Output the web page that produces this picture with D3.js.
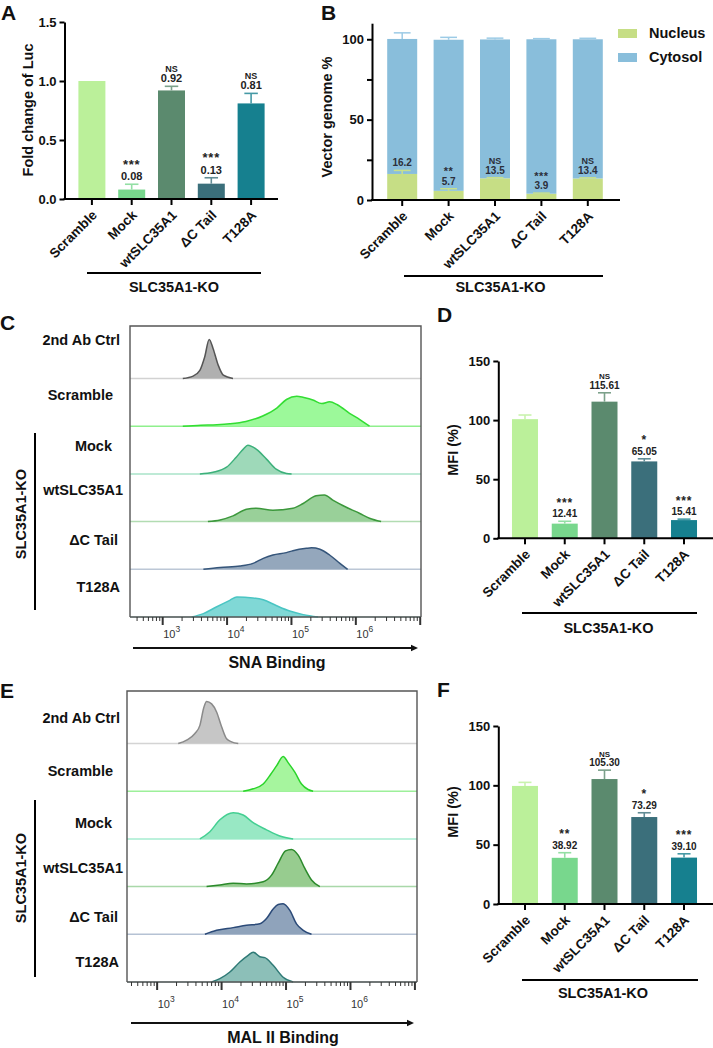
<!DOCTYPE html>
<html><head><meta charset="utf-8">
<script src="https://cdn.jsdelivr.net/npm/d3@7"></script>
<style>
body{margin:0;background:#fff;}
svg{display:block;font-family:Arial,"Liberation Sans",Helvetica,sans-serif;}
</style></head><body>
<svg id="fig" width="713" height="1048"></svg>
<script>
// ---------------- DATA ----------------
const categories = ["Scramble","Mock","wtSLC35A1","ΔC Tail","T128A"];
const barColors = ["#bbf09a","#78d78d","#5b8a6e","#3b6f7b","#16808f"];

// Panel A: Fold change of Luc
const lucValues = [1.00,0.08,0.92,0.13,0.81];
const lucErrors = [0,0.045,0.035,0.05,0.085];
const lucSig = ["","***","NS","***","NS"];
const lucTicks = [0,0.5,1.0,1.5];
const lucTickLabels = ["0.0","0.5","1.0","1.5"];

// Panel B: Vector genome %
const nucleusValues = [16.2,5.7,13.5,3.9,13.4];
const nucleusErrors = [2.2,1.3,0.4,0.4,0.4];
const cytosolValues = [84.0,94.0,86.4,96.1,86.6];
const cytosolErrors = [3.8,1.5,0.8,0.4,0.6];
const nucleusSig = ["","**","NS","***","NS"];
const genomeTicks = [0,25,50,75,100];
const genomeTickLabels = ["0","","50","","100"];
const stackSeries = ["Nucleus","Cytosol"];
const stackColors = ["#c6de85","#89bedb"];

// Panel D: SNA MFI
const snaValues = [100.8,12.41,115.61,65.05,15.41];
const snaErrors = [3.5,2.0,7.5,2.2,0.8];
const snaSig = ["","***","NS","*","***"];
// Panel F: MAL II MFI
const malValues = [99.5,38.92,105.30,73.29,39.10];
const malErrors = [3.0,4.3,7.5,3.6,3.2];
const malSig = ["","**","NS","*","***"];
const mfiTicks = [0,50,100,150];
const mfiTickLabels = ["0","50","100","150"];

// Flow histograms: [log10 intensity, fraction of row height]
const flowRows = ["2nd Ab Ctrl","Scramble","Mock","wtSLC35A1","ΔC Tail","T128A"];
const flowDecadeLabels = [3,4,5,6];
const snaHist2ndAb = [[3.32,0],[3.48,0.05],[3.585,0.17],[3.66,0.45],[3.73,0.82],[3.79,0.63],[3.87,0.28],[3.95,0.07],[4.10,0]];
const snaHistScramble = [[3.32,0],[3.6,0.02],[3.85,0.03],[4.05,0.05],[4.3,0.10],[4.57,0.22],[4.78,0.38],[4.93,0.56],[5.09,0.63],[5.2,0.60],[5.34,0.55],[5.48,0.475],[5.60,0.51],[5.72,0.45],[5.91,0.27],[6.07,0.14],[6.22,0]];
const snaHistMock = [[3.585,0],[3.79,0.035],[4.0,0.14],[4.15,0.35],[4.26,0.52],[4.33,0.60],[4.46,0.52],[4.62,0.31],[4.77,0.10],[4.93,0.01],[5.01,0]];
const snaHistWt = [[3.71,0],[3.90,0.035],[4.10,0.12],[4.31,0.26],[4.46,0.28],[4.72,0.24],[5.03,0.28],[5.19,0.38],[5.39,0.54],[5.52,0.56],[5.65,0.45],[5.86,0.30],[6.07,0.17],[6.22,0.07],[6.40,0]];
const snaHistDC = [[3.64,0],[3.90,0.04],[4.21,0.07],[4.41,0.125],[4.57,0.23],[4.72,0.30],[4.93,0.35],[5.03,0.39],[5.24,0.44],[5.32,0.45],[5.45,0.42],[5.60,0.30],[5.76,0.125],[5.88,0]];
const snaHistT128A = [[3.46,0],[3.64,0.07],[3.84,0.21],[4.05,0.35],[4.16,0.42],[4.41,0.40],[4.57,0.36],[4.77,0.24],[4.98,0.125],[5.19,0.05],[5.42,0]];

const malHist2ndAb = [[3.335,0],[3.465,0.07],[3.594,0.21],[3.671,0.38],[3.733,0.76],[3.775,0.88],[3.853,0.83],[3.930,0.66],[4.008,0.35],[4.085,0.10],[4.163,0.035],[4.266,0]];
const malHistScramble = [[4.343,0],[4.498,0.05],[4.653,0.15],[4.757,0.33],[4.860,0.53],[4.963,0.73],[5.04,0.60],[5.144,0.40],[5.248,0.15],[5.35,0.035],[5.428,0]];
const malHistMock = [[3.671,0],[3.826,0.15],[3.981,0.40],[4.188,0.55],[4.343,0.50],[4.498,0.34],[4.705,0.19],[4.912,0.06],[5.118,0]];
const malHistWt = [[3.775,0],[3.981,0.035],[4.188,0.07],[4.395,0.055],[4.653,0.10],[4.783,0.24],[4.886,0.49],[5.00,0.75],[5.093,0.78],[5.196,0.66],[5.30,0.38],[5.403,0.14],[5.532,0]];
const malHistDC = [[3.749,0],[3.930,0.083],[4.188,0.14],[4.395,0.19],[4.601,0.22],[4.705,0.33],[4.808,0.53],[4.886,0.625],[4.963,0.64],[5.067,0.5],[5.170,0.22],[5.274,0.083],[5.403,0]];
const malHistT128A = [[3.853,0],[3.981,0.07],[4.136,0.21],[4.291,0.42],[4.42,0.56],[4.498,0.625],[4.601,0.53],[4.679,0.51],[4.808,0.35],[4.963,0.10],[5.118,0]];

// ---------------- DRAW ----------------
const svg = d3.select("#fig");
const FONT = "Arial, 'Liberation Sans', Helvetica, sans-serif";

function txt(t, x, y, size, opts = {}) {
  const e = svg.append("text").attr("x", x).attr("y", y).attr("font-size", size)
    .attr("font-weight", opts.weight || "bold").attr("fill", opts.fill || "#111")
    .attr("text-anchor", opts.anchor || "start").text(t);
  if (opts.rotate) e.attr("transform", `rotate(${opts.rotate},${x},${y})`);
  if (opts.ls) e.attr("letter-spacing", opts.ls);
  return e;
}
function lighten(c, k) { return d3.interpolateRgb(c, "#ffffff")(k); }

function barPanel(cfg) {
  const g = svg.append("g");
  const y = d3.scaleLinear().domain(cfg.yDomain).range(cfg.yRange);
  const x = d3.scaleBand().domain(categories).range(cfg.xRange).padding(0);
  const y0 = y(0);

  // y axis
  g.append("g").attr("transform", `translate(${cfg.axisX},0)`)
    .call(d3.axisLeft(y).tickValues(cfg.ticks).tickSize(5).tickSizeOuter(0)
      .tickFormat((d, i) => cfg.tickLabels[i]))
    .call(a => {
      a.select(".domain").attr("stroke", "#000").attr("stroke-width", 2);
      a.selectAll(".tick line").attr("stroke", "#000").attr("stroke-width", 2);
      a.selectAll(".tick text").attr("font-size", 13).attr("font-weight", "bold")
        .attr("font-family", FONT).attr("fill", "#111").attr("x", -8);
    });

  // bars
  const bw = cfg.barW;
  if (cfg.stacked) {
    const rows = categories.map((c, i) => ({ cat: c, Nucleus: nucleusValues[i], Cytosol: cytosolValues[i] }));
    const stack = d3.stack().keys(stackSeries)(rows);
    stack.forEach((s, si) => {
      g.selectAll(null).data(s).enter().append("rect")
        .attr("x", d => x(d.data.cat) + x.bandwidth() / 2 - bw / 2)
        .attr("width", bw)
        .attr("y", d => y(d[1])).attr("height", d => y(d[0]) - y(d[1]))
        .attr("fill", stackColors[si]);
    });
    const errSets = [
      { tops: stack[0].map(d => d[1]), errs: nucleusErrors, color: "#c9e08a" },
      { tops: stack[1].map(d => d[1]), errs: cytosolErrors, color: "#9ccbe6" }
    ];
    errSets.forEach(es => {
      categories.forEach((c, i) => {
        const cx = x(c) + x.bandwidth() / 2;
        const t = y(es.tops[i] + es.errs[i]);
        g.append("line").attr("x1", cx).attr("x2", cx).attr("y1", y(es.tops[i])).attr("y2", t)
          .attr("stroke", es.color).attr("stroke-width", 1.5);
        g.append("line").attr("x1", cx - bw * 0.28).attr("x2", cx + bw * 0.28).attr("y1", t).attr("y2", t)
          .attr("stroke", es.color).attr("stroke-width", 1.5);
      });
    });
    categories.forEach((c, i) => {
      const cx = x(c) + x.bandwidth() / 2;
      const vb = y(nucleusValues[i] + nucleusErrors[i]) - 4;
      txt(d3.format(".1f")(nucleusValues[i]), cx, vb, 10, { anchor: "middle", fill: "#2b2f3a" });
      const s = nucleusSig[i];
      if (s === "NS") txt(s, cx, vb - 10, 9, { anchor: "middle", fill: "#2b2f3a" });
      else if (s) txt(s, cx, vb - 9.5, 11, { anchor: "middle", fill: "#2b2f3a", ls: 0.5 });
    });
  } else {
    categories.forEach((c, i) => {
      const cx = x(c) + x.bandwidth() / 2;
      const v = cfg.values[i], e = cfg.errors[i];
      g.append("rect").attr("x", cx - bw / 2).attr("width", bw)
        .attr("y", y(v)).attr("height", y0 - y(v)).attr("fill", barColors[i]);
      const t = y(v + e);
      if (e > 0) {
        const ec = lighten(barColors[i], 0.2);
        g.append("line").attr("x1", cx).attr("x2", cx).attr("y1", y(v)).attr("y2", t)
          .attr("stroke", ec).attr("stroke-width", 1.6);
        g.append("line").attr("x1", cx - bw * 0.25).attr("x2", cx + bw * 0.25).attr("y1", t).attr("y2", t)
          .attr("stroke", ec).attr("stroke-width", 1.6);
      }
      const s = cfg.sig[i];
      if (s) {
        const vb = t - 4;
        txt(d3.format(cfg.fmt)(v), cx, vb, cfg.valSize, { anchor: "middle", fill: "#222" });
        if (s === "NS") txt(s, cx, vb - cfg.valSize + 0.5, cfg.valSize - 2, { anchor: "middle", fill: "#222" });
        else txt(s, cx, vb - cfg.valSize - 0.5, cfg.starSize, { anchor: "middle", fill: "#222", ls: 0.8 });
      }
    });
  }

  // x axis
  g.append("line").attr("x1", cfg.axisX - 1).attr("x2", cfg.xEnd).attr("y1", y0).attr("y2", y0)
    .attr("stroke", "#000").attr("stroke-width", 2);
  g.append("g").attr("transform", `translate(0,${y0})`)
    .call(d3.axisBottom(x).tickSize(6).tickSizeOuter(0))
    .call(a => {
      a.select(".domain").remove();
      a.selectAll(".tick line").attr("stroke", "#000").attr("stroke-width", 2);
      a.selectAll(".tick text").attr("font-size", 13.5).attr("font-weight", "bold")
        .attr("font-family", FONT).attr("fill", "#111")
        .attr("x", 0).attr("y", 0).attr("dy", 0).attr("text-anchor", "end")
        .attr("transform", "translate(6,17) rotate(-45)");
    });

  // KO bracket
  g.append("line").attr("x1", cfg.ko[0]).attr("x2", cfg.ko[1]).attr("y1", cfg.ko[2]).attr("y2", cfg.ko[2])
    .attr("stroke", "#000").attr("stroke-width", 2);
  txt("SLC35A1-KO", (cfg.ko[0] + cfg.ko[1]) / 2 + cfg.koShift, cfg.ko[3], 14.5, { anchor: "middle" });

  // y title
  txt(cfg.yTitle, cfg.yTitlePos[0], cfg.yTitlePos[1], 14.5, { anchor: "middle", rotate: -90 });
  // letter
  txt(cfg.letter, cfg.letterPos[0], cfg.letterPos[1], 21);
}

// Panel A
barPanel({
  letter: "A", letterPos: [1, 20],
  yDomain: [0, 1.5], yRange: [199, 22], axisX: 64.5, xEnd: 278, xRange: [72, 271], barW: 27,
  ticks: lucTicks, tickLabels: lucTickLabels,
  values: lucValues, errors: lucErrors, sig: lucSig, fmt: ".2f", valSize: 11, starSize: 13,
  ko: [87, 261, 273, 292], koShift: 0, yTitle: "Fold change of Luc", yTitlePos: [33, 110]
});
// Panel B
barPanel({
  letter: "B", letterPos: [321, 20], stacked: true,
  yDomain: [0, 110], yRange: [200, 23.2], axisX: 372, xEnd: 620, xRange: [379, 611], barW: 30,
  ticks: genomeTicks, tickLabels: genomeTickLabels,
  ko: [404, 603, 276, 292], koShift: -3, yTitle: "Vector genome %", yTitlePos: [332, 117]
});
// legend B
stackSeries.forEach((s, i) => {
  svg.append("rect").attr("x", 618).attr("y", 29 + i * 24).attr("width", 19).attr("height", 9).attr("fill", stackColors[i]);
  txt(s, 649, 38 + i * 24, 14.5);
});
// Panel D
barPanel({
  letter: "D", letterPos: [437, 322],
  yDomain: [0, 150], yRange: [538.3, 361], axisX: 498.3, xEnd: 713, xRange: [505.1, 703.9], barW: 26,
  ticks: mfiTicks, tickLabels: mfiTickLabels,
  values: snaValues, errors: snaErrors, sig: snaSig, fmt: ".2f", valSize: 10, starSize: 12,
  ko: [522, 697, 613, 633], koShift: -1, yTitle: "MFI (%)", yTitlePos: [458, 450]
});
// Panel F
barPanel({
  letter: "F", letterPos: [437, 697],
  yDomain: [0, 150], yRange: [904, 726], axisX: 498.3, xEnd: 713, xRange: [505.1, 703.9], barW: 26,
  ticks: mfiTicks, tickLabels: mfiTickLabels,
  values: malValues, errors: malErrors, sig: malSig, fmt: ".2f", valSize: 10, starSize: 12,
  ko: [522, 698, 980, 998], koShift: -7, yTitle: "MFI (%)", yTitlePos: [458, 812]
});

// -------- Flow panels --------
function flowPanel(cfg) {
  const g = svg.append("g");
  const x = d3.scaleLog().domain([10 ** cfg.logMin, 10 ** cfg.logMax]).range([cfg.left, cfg.right]);
  const n = flowRows.length;
  const base = i => cfg.bottom - (n - 1 - i) * cfg.step;
  cfg.hists.forEach((h, i) => {
    const b = base(i);
    const yy = d3.scaleLinear().domain([0, 1]).range([b, b - cfg.step]);
    g.append("line").attr("x1", cfg.left).attr("x2", cfg.right).attr("y1", b).attr("y2", b)
      .attr("stroke", cfg.lineColors[i]).attr("stroke-width", 1.5);
    const area = d3.area().x(d => x(10 ** d[0])).y0(b).y1(d => yy(d[1])).curve(d3.curveMonotoneX);
    const line = d3.line().x(d => x(10 ** d[0])).y(d => yy(d[1])).curve(d3.curveMonotoneX);
    g.append("path").datum(h).attr("d", area).attr("fill", cfg.fills[i]);
    g.append("path").datum(h).attr("d", line).attr("fill", "none").attr("stroke", cfg.strokes[i]).attr("stroke-width", 1.5);
    txt(flowRows[i], cfg.labelX[i], cfg.labelY[i], 14.5, { anchor: "end" });
  });
  // frame
  g.append("path").attr("d", `M${cfg.left},${cfg.bottom}V${cfg.top}H${cfg.right}V${cfg.bottom}`)
    .attr("fill", "none").attr("stroke", "#555").attr("stroke-width", 1.4);
  g.append("line").attr("x1", cfg.left).attr("x2", cfg.right).attr("y1", cfg.bottom).attr("y2", cfg.bottom)
    .attr("stroke", "#555").attr("stroke-width", 1.4);
  // ticks
  const tv = [];
  for (let k = 2; k <= 7; k++) for (let m = 1; m <= 9; m++) {
    const v = m * 10 ** k;
    if (v >= 10 ** cfg.logMin && v <= 10 ** cfg.logMax) tv.push(v);
  }
  g.append("g").attr("transform", `translate(0,${cfg.bottom})`)
    .call(d3.axisBottom(x).tickValues(tv).tickSizeOuter(0).tickFormat(""))
    .call(a => {
      a.select(".domain").remove();
      a.selectAll(".tick line").each(function (d) {
        const major = Math.abs(Math.log10(d) - Math.round(Math.log10(d))) < 1e-9;
        d3.select(this).attr("y2", major ? 8 : 4).attr("stroke", "#333").attr("stroke-width", major ? 2 : 1);
      });
    });
  flowDecadeLabels.forEach(k => {
    const t = g.append("text").attr("x", x(10 ** k) + 1).attr("y", cfg.bottom + cfg.tickLabelDy)
      .attr("font-size", 11).attr("fill", "#333").text("10");
    t.append("tspan").attr("dy", -6).attr("font-size", 8.5).text(k);
  });
  // axis arrow line
  g.append("line").attr("x1", cfg.arrow[0]).attr("x2", cfg.arrow[1] - 4).attr("y1", cfg.arrow[2]).attr("y2", cfg.arrow[2])
    .attr("stroke", "#111").attr("stroke-width", 1.8);
  g.append("path").attr("d", `M${cfg.arrow[1]},${cfg.arrow[2]}l-7,-3.2v6.4z`).attr("fill", "#111");
  txt(cfg.title, cfg.titlePos[0], cfg.titlePos[1], 16, { anchor: "middle" });
  // KO bracket
  g.append("line").attr("x1", 35).attr("x2", 35).attr("y1", cfg.ko[0]).attr("y2", cfg.ko[1])
    .attr("stroke", "#000").attr("stroke-width", 2);
  txt("SLC35A1-KO", 26, cfg.ko[2], 14.5, { anchor: "middle", rotate: -90 });
  txt(cfg.letter, cfg.letterPos[0], cfg.letterPos[1], 21);
}

flowPanel({
  letter: "C", letterPos: [0, 330],
  left: 130, right: 421, top: 326, bottom: 617, step: 47.7, logMin: 2.5, logMax: 7.02,
  hists: [snaHist2ndAb, snaHistScramble, snaHistMock, snaHistWt, snaHistDC, snaHistT128A],
  fills: ["#b0b0b0", "#9cf99a", "#9ed9b9", "#99d099", "#94a7bc", "#80d8d6"],
  strokes: ["#555555", "#33dd33", "#3cb07a", "#3c983c", "#35557a", "#4ac5c3"],
  lineColors: ["#d2d2d2", "#8ff08d", "#a9e3c8", "#b2dcb2", "#bcc7d6", "#bde8e6"],
  labelX: [120, 113, 112, 123, 118, 120], labelY: [345, 400, 450.7, 495, 545, 592],
  tickLabelDy: 21, arrow: [133, 418, 648], title: "SNA Binding", titlePos: [277, 668],
  ko: [433, 610, 514]
});
flowPanel({
  letter: "E", letterPos: [0, 698],
  left: 127, right: 417, top: 691, bottom: 982, step: 47.7, logMin: 2.54, logMax: 7.04,
  hists: [malHist2ndAb, malHistScramble, malHistMock, malHistWt, malHistDC, malHistT128A],
  fills: ["#c6c6c6", "#a6f59e", "#98e8c4", "#97cc8f", "#8fa3bb", "#8cbfb8"],
  strokes: ["#8a8a8a", "#2ad42a", "#44cf92", "#2b8a2b", "#2b4a78", "#2f7a76"],
  lineColors: ["#d4d4d4", "#9df09a", "#a6ecd0", "#a9d8a9", "#b5c2d4", "#b5d6d3"],
  labelX: [120, 113, 112, 123, 118, 119], labelY: [722.7, 776, 827.7, 872.7, 921.7, 967],
  tickLabelDy: 26, arrow: [131, 414, 1023], title: "MAL II Binding", titlePos: [283, 1043],
  ko: [800, 977, 878]
});
</script>
</body></html>
